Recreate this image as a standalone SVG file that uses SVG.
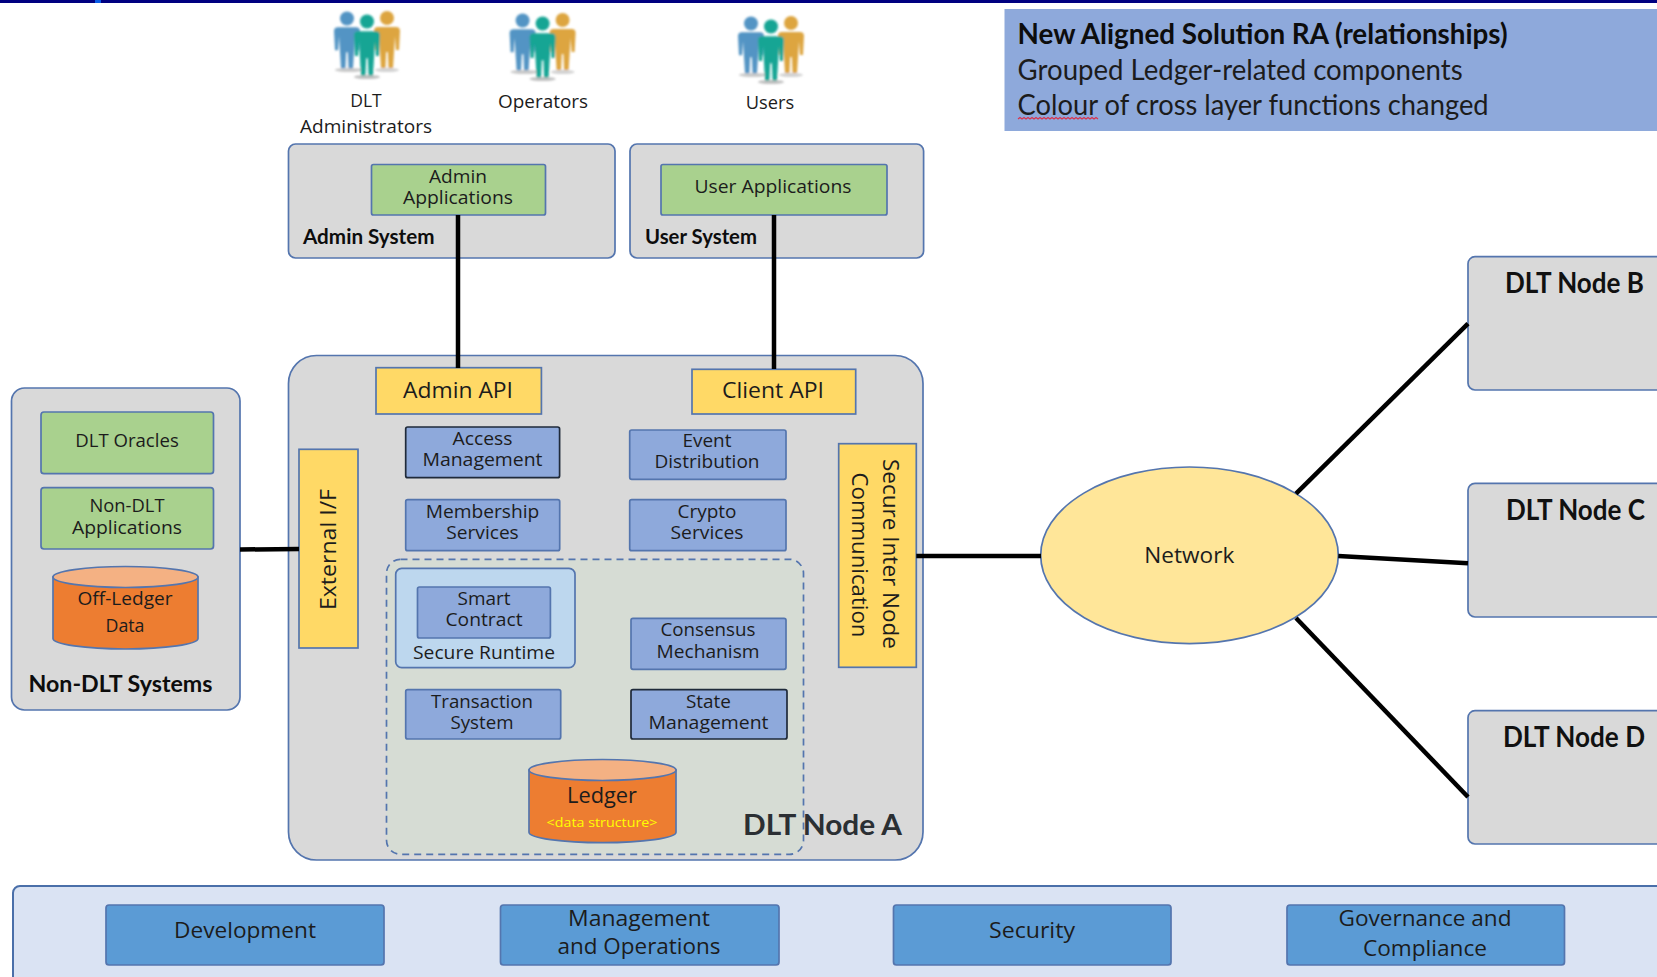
<svg xmlns="http://www.w3.org/2000/svg" width="1657" height="977" viewBox="0 0 1657 977">
<style>
.box{stroke:#5475AE;stroke-width:1.7}
.gray{fill:#D9D9D9}
.green{fill:#A9D18E}
.yellow{fill:#FFD966}
.blue{fill:#8EA9DB}
.dark{stroke:#1F2A3A}
.cross{fill:#5B9BD5}
.t{font-family:"Open Sans","Liberation Sans",sans-serif;font-size:19px;fill:#1C1C1C;text-anchor:middle}
.tl{font-family:"Open Sans","Liberation Sans",sans-serif;font-size:22px;fill:#1C1C1C;text-anchor:middle}
.b{font-family:Lato,"Liberation Sans",sans-serif;font-weight:700;fill:#0D0D0D;font-size:21px}
.h{font-family:Lato,"Liberation Sans",sans-serif;font-size:28px;fill:#1C1C1C}
.n{font-family:Lato,"Liberation Sans",sans-serif;font-weight:700;font-size:29px;fill:#111}
.cyl{stroke:#5475AE;stroke-width:1.7;fill:#ED7D31}
.top{stroke:#5475AE;stroke-width:1.7;fill:#F4B183}
.conn{stroke:#000;stroke-width:4.500;fill:none}
</style>
<defs>
<path id="fig" d="M-9,8H9Q13,8 13,12L12,31H9L8,17L7,33L6,49H1.500L.8,33H-.8L-1.500,49H-6L-7,33L-8,17L-9,31H-12L-13,12Q-13,8-9,8Z"/>
<filter id="soft" x="-10%" y="-10%" width="120%" height="120%"><feGaussianBlur stdDeviation="0.8"/></filter>
<g id="people" filter="url(#soft)">
<ellipse cx="24" cy="64" rx="14" ry="2" fill="#C9C9C9"/><ellipse cx="62" cy="64" rx="12" ry="2" fill="#D2D2D2"/><ellipse cx="42" cy="71" rx="13" ry="2" fill="#C0C0C0"/>
<g fill="#DDA53F"><circle cx="62" cy="12" r="7"/><use href="#fig" transform="translate(62,13)"/></g>
<g fill="#5394C4"><circle cx="22" cy="12.500" r="7"/><use href="#fig" transform="translate(22,13.300)"/></g>
<g fill="#15A594"><circle cx="42" cy="15.500" r="7"/><use href="#fig" transform="translate(42,16.500) scale(1,1.080)"/></g>
</g>
</defs>
<rect width="1657" height="977" fill="#fff"/>
<rect id="top-bar" width="1657" height="3" fill="#000080"/>
<rect x="95" width="6" height="3" fill="#0A5CE6"/>
<g transform="translate(0,1)">
<g id="actor-admins"><use href="#people" transform="translate(325,5)"/>
<text class="t" x="366" y="106.300" textLength="31.500" lengthAdjust="spacingAndGlyphs">DLT</text>
<text class="t" x="366" y="132.300" textLength="132" lengthAdjust="spacingAndGlyphs">Administrators</text></g>
<g id="actor-operators"><use href="#people" transform="translate(500.600,7)"/>
<text class="t" x="543" y="107.300" textLength="90" lengthAdjust="spacingAndGlyphs">Operators</text></g>
<g id="actor-users"><use href="#people" transform="translate(729,10)"/>
<text class="t" x="770" y="108.300" textLength="48.500" lengthAdjust="spacingAndGlyphs">Users</text></g>

<g id="note">
<rect x="1004.500" y="8" width="653" height="122" fill="#8EA9DB"/>
<text class="h" x="1017.600" y="43" style="font-weight:700;fill:#0D0D0D" textLength="490" lengthAdjust="spacingAndGlyphs">New Aligned Solution RA (relationships)</text>
<text class="h" x="1017.600" y="79" textLength="445" lengthAdjust="spacingAndGlyphs">Grouped Ledger-related components</text>
<text class="h" x="1017.600" y="114" textLength="471" lengthAdjust="spacingAndGlyphs">Colour of cross layer functions changed</text>
<path d="M1018,118l2,-1.500l2,1.500l2,-1.500l2,1.500l2,-1.500l2,1.500l2,-1.500l2,1.500l2,-1.500l2,1.500l2,-1.500l2,1.500l2,-1.500l2,1.500l2,-1.500l2,1.500l2,-1.500l2,1.500l2,-1.500l2,1.500l2,-1.500l2,1.500l2,-1.500l2,1.500l2,-1.500l2,1.500l2,-1.500l2,1.500l2,-1.500l2,1.500l2,-1.500l2,1.500l2,-1.500l2,1.500l2,-1.500l2,1.500l2,-1.500l2,1.500l2,-1.500l2,1.500" fill="none" stroke="#D8344E" stroke-width="1.200"/>
</g>

<g id="admin-system"><rect class="box gray" x="288.500" y="143" width="326.500" height="114" rx="7"/>
<text class="b" x="303" y="243" textLength="131.500" lengthAdjust="spacingAndGlyphs">Admin System</text></g>
<g id="admin-applications"><rect class="box green" x="371.500" y="163.500" width="174" height="50.500" rx="2"/>
<text class="t" x="458" y="181.500" textLength="58" lengthAdjust="spacingAndGlyphs">Admin</text>
<text class="t" x="458" y="203.300" textLength="110" lengthAdjust="spacingAndGlyphs">Applications</text></g>
<g id="user-system"><rect class="box gray" x="630" y="143" width="293.600" height="114" rx="7"/>
<text class="b" x="645" y="243" textLength="112" lengthAdjust="spacingAndGlyphs">User System</text></g>
<g id="user-applications"><rect class="box green" x="661" y="163.500" width="226" height="50.500" rx="2"/>
<text class="t" x="773" y="192" textLength="157" lengthAdjust="spacingAndGlyphs">User Applications</text></g>

<g id="non-dlt-systems"><rect class="box gray" x="11.500" y="387" width="228.500" height="322" rx="13"/>
<text class="b" x="28.500" y="690.700" style="font-size:23px" textLength="184" lengthAdjust="spacingAndGlyphs">Non-DLT Systems</text></g>
<g id="dlt-oracles"><rect class="box green" x="41" y="411" width="172.500" height="61.700" rx="3"/>
<text class="t" x="127" y="446" textLength="103.600" lengthAdjust="spacingAndGlyphs">DLT Oracles</text></g>
<g id="non-dlt-applications"><rect class="box green" x="41" y="486.700" width="172.500" height="61.300" rx="3"/>
<text class="t" x="127" y="511" textLength="75" lengthAdjust="spacingAndGlyphs">Non-DLT</text>
<text class="t" x="127" y="533.300" textLength="110" lengthAdjust="spacingAndGlyphs">Applications</text></g>
<g id="off-ledger-data"><path class="cyl" d="M53,576V637.500A72.500,10.500 0 0 0 198,637.500V576Z"/><ellipse class="top" cx="125.500" cy="576" rx="72.500" ry="10.500"/>
<text class="t" x="125" y="604.300" textLength="95" lengthAdjust="spacingAndGlyphs">Off-Ledger</text>
<text class="t" x="125" y="631.300" textLength="39" lengthAdjust="spacingAndGlyphs">Data</text></g>

<g id="dlt-node-a"><rect class="box gray" x="288.500" y="354.500" width="634.500" height="504.500" rx="28"/></g>
<g id="ledger-group"><rect x="386.500" y="558.300" width="417" height="295" rx="14" fill="#D6DCD4" stroke="#5475AE" stroke-width="1.700" stroke-dasharray="7 5"/></g>
<text class="n" x="743" y="834.300" style="fill:#2B2F33" textLength="159" lengthAdjust="spacingAndGlyphs">DLT Node A</text>
<g id="admin-api"><rect class="box yellow" x="376" y="366.700" width="165.400" height="46.300"/>
<text class="tl" x="458" y="396.500" textLength="110" lengthAdjust="spacingAndGlyphs">Admin API</text></g>
<g id="client-api"><rect class="box yellow" x="692" y="368.300" width="163.700" height="44.700"/>
<text class="tl" x="773" y="396.700" textLength="102" lengthAdjust="spacingAndGlyphs">Client API</text></g>
<g id="external-if"><rect class="box yellow" x="299" y="448.300" width="59" height="198.700"/>
<text class="tl" transform="translate(336,548.500) rotate(-90)" textLength="121" lengthAdjust="spacingAndGlyphs">External I/F</text></g>
<g id="secure-inter-node"><rect class="box yellow" x="838.700" y="442.700" width="77.600" height="223.600"/>
<text class="tl" transform="translate(882.700,553) rotate(90)" textLength="190" lengthAdjust="spacingAndGlyphs">Secure Inter Node</text>
<text class="tl" transform="translate(851.700,554) rotate(90)" textLength="165" lengthAdjust="spacingAndGlyphs">Communication</text></g>
<g id="access-management"><rect class="box blue dark" x="405.700" y="426" width="153.900" height="50.700" rx="2"/>
<text class="t" x="482.500" y="444.300" textLength="60" lengthAdjust="spacingAndGlyphs">Access</text>
<text class="t" x="482.500" y="465" textLength="120" lengthAdjust="spacingAndGlyphs">Management</text></g>
<g id="membership-services"><rect class="box blue" x="405.700" y="498.700" width="154" height="51" rx="2"/>
<text class="t" x="482.500" y="517" textLength="113.600" lengthAdjust="spacingAndGlyphs">Membership</text>
<text class="t" x="482.500" y="538.300" textLength="72.500" lengthAdjust="spacingAndGlyphs">Services</text></g>
<g id="event-distribution"><rect class="box blue" x="629.700" y="429" width="156.300" height="49.300" rx="2"/>
<text class="t" x="707" y="446" textLength="49" lengthAdjust="spacingAndGlyphs">Event</text>
<text class="t" x="707" y="467.300" textLength="105" lengthAdjust="spacingAndGlyphs">Distribution</text></g>
<g id="crypto-services"><rect class="box blue" x="629.700" y="498.700" width="156.300" height="51" rx="2"/>
<text class="t" x="707" y="516.600" textLength="59" lengthAdjust="spacingAndGlyphs">Crypto</text>
<text class="t" x="707" y="537.600" textLength="73" lengthAdjust="spacingAndGlyphs">Services</text></g>
<g id="secure-runtime"><rect class="box" x="395.700" y="567.300" width="179.300" height="99.400" rx="6" fill="#BDD7EE"/>
<text class="t" x="484" y="657.600" textLength="142" lengthAdjust="spacingAndGlyphs">Secure Runtime</text></g>
<g id="smart-contract"><rect class="box blue" x="417.500" y="586" width="132.900" height="51" rx="2"/>
<text class="t" x="484" y="604.300" textLength="53" lengthAdjust="spacingAndGlyphs">Smart</text>
<text class="t" x="484" y="625.300" textLength="77" lengthAdjust="spacingAndGlyphs">Contract</text></g>
<g id="consensus-mechanism"><rect class="box blue" x="631" y="617.300" width="155" height="51" rx="2"/>
<text class="t" x="708" y="635.300" textLength="95" lengthAdjust="spacingAndGlyphs">Consensus</text>
<text class="t" x="708" y="656.600" textLength="103" lengthAdjust="spacingAndGlyphs">Mechanism</text></g>
<g id="transaction-system"><rect class="box blue" x="405.700" y="688.700" width="155" height="49.300" rx="2"/>
<text class="t" x="482" y="706.600" textLength="102" lengthAdjust="spacingAndGlyphs">Transaction</text>
<text class="t" x="482" y="727.600" textLength="63" lengthAdjust="spacingAndGlyphs">System</text></g>
<g id="state-management"><rect class="box blue dark" x="631" y="688.700" width="156" height="49.300" rx="2"/>
<text class="t" x="708.500" y="706.600" textLength="45" lengthAdjust="spacingAndGlyphs">State</text>
<text class="t" x="708.500" y="727.600" textLength="120" lengthAdjust="spacingAndGlyphs">Management</text></g>
<g id="ledger"><path class="cyl" d="M529,769V831.200A73.500,10.500 0 0 0 676,831.200V769Z"/><ellipse class="top" cx="602.500" cy="769" rx="73.500" ry="10.500"/>
<text class="tl" x="602" y="802" textLength="70" lengthAdjust="spacingAndGlyphs">Ledger</text>
<text class="t" x="602" y="826" style="font-size:13px;fill:#FFFF00" textLength="111" lengthAdjust="spacingAndGlyphs">&lt;data structure&gt;</text></g>

<g id="network"><ellipse cx="1189.500" cy="554.300" rx="148.800" ry="88.300" fill="#FFE699" stroke="#5475AE" stroke-width="1.700"/>
<text class="tl" x="1189.300" y="562" textLength="90" lengthAdjust="spacingAndGlyphs">Network</text></g>
<g id="dlt-node-b"><path class="box gray" d="M1657,255.700H1475a7,7 0 0 0 -7,7V382a7,7 0 0 0 7,7H1657"/>
<text class="n" x="1505" y="292" textLength="139" lengthAdjust="spacingAndGlyphs">DLT Node B</text></g>
<g id="dlt-node-c"><path class="box gray" d="M1657,482.300H1475a7,7 0 0 0 -7,7V609a7,7 0 0 0 7,7H1657"/>
<text class="n" x="1506" y="519" textLength="139" lengthAdjust="spacingAndGlyphs">DLT Node C</text></g>
<g id="dlt-node-d"><path class="box gray" d="M1657,709.700H1475a7,7 0 0 0 -7,7V836a7,7 0 0 0 7,7H1657"/>
<text class="n" x="1503" y="746" textLength="142" lengthAdjust="spacingAndGlyphs">DLT Node D</text></g>

<g transform="translate(0,1)">
<g id="cross-layer"><path d="M1670,884H20a7,7 0 0 0 -7,7V990H1670" fill="#DAE3F3" stroke="#4A6FA9" stroke-width="2"/></g>
<g id="development"><rect class="box cross" x="106" y="903" width="278" height="60" rx="3"/>
<text class="tl" x="245" y="935.700" textLength="142" lengthAdjust="spacingAndGlyphs">Development</text></g>
<g id="management-operations"><rect class="box cross" x="500.500" y="903" width="278.500" height="60" rx="3"/>
<text class="tl" x="639" y="924" textLength="142" lengthAdjust="spacingAndGlyphs">Management</text>
<text class="tl" x="639" y="952" textLength="163" lengthAdjust="spacingAndGlyphs">and Operations</text></g>
<g id="security"><rect class="box cross" x="893.500" y="903" width="277.500" height="60" rx="3"/>
<text class="tl" x="1032" y="935.700" textLength="86" lengthAdjust="spacingAndGlyphs">Security</text></g>
<g id="governance-compliance"><rect class="box cross" x="1287" y="903" width="277.500" height="60" rx="3"/>
<text class="tl" x="1425" y="924" textLength="173" lengthAdjust="spacingAndGlyphs">Governance and</text>
<text class="tl" x="1425" y="953.700" textLength="124" lengthAdjust="spacingAndGlyphs">Compliance</text></g>
</g>

<g id="connectors">
<path class="conn" d="M458,214V367"/>
<path class="conn" d="M774,214V368"/>
<path class="conn" d="M240,548.500L299,548"/>
<path class="conn" d="M916.300,555H1041"/>
<path class="conn" d="M1296,492.700L1468,322.700"/>
<path class="conn" d="M1338.300,555L1468,562.300"/>
<path class="conn" d="M1296,617L1468,796"/>
</g>
</g>
</svg>
